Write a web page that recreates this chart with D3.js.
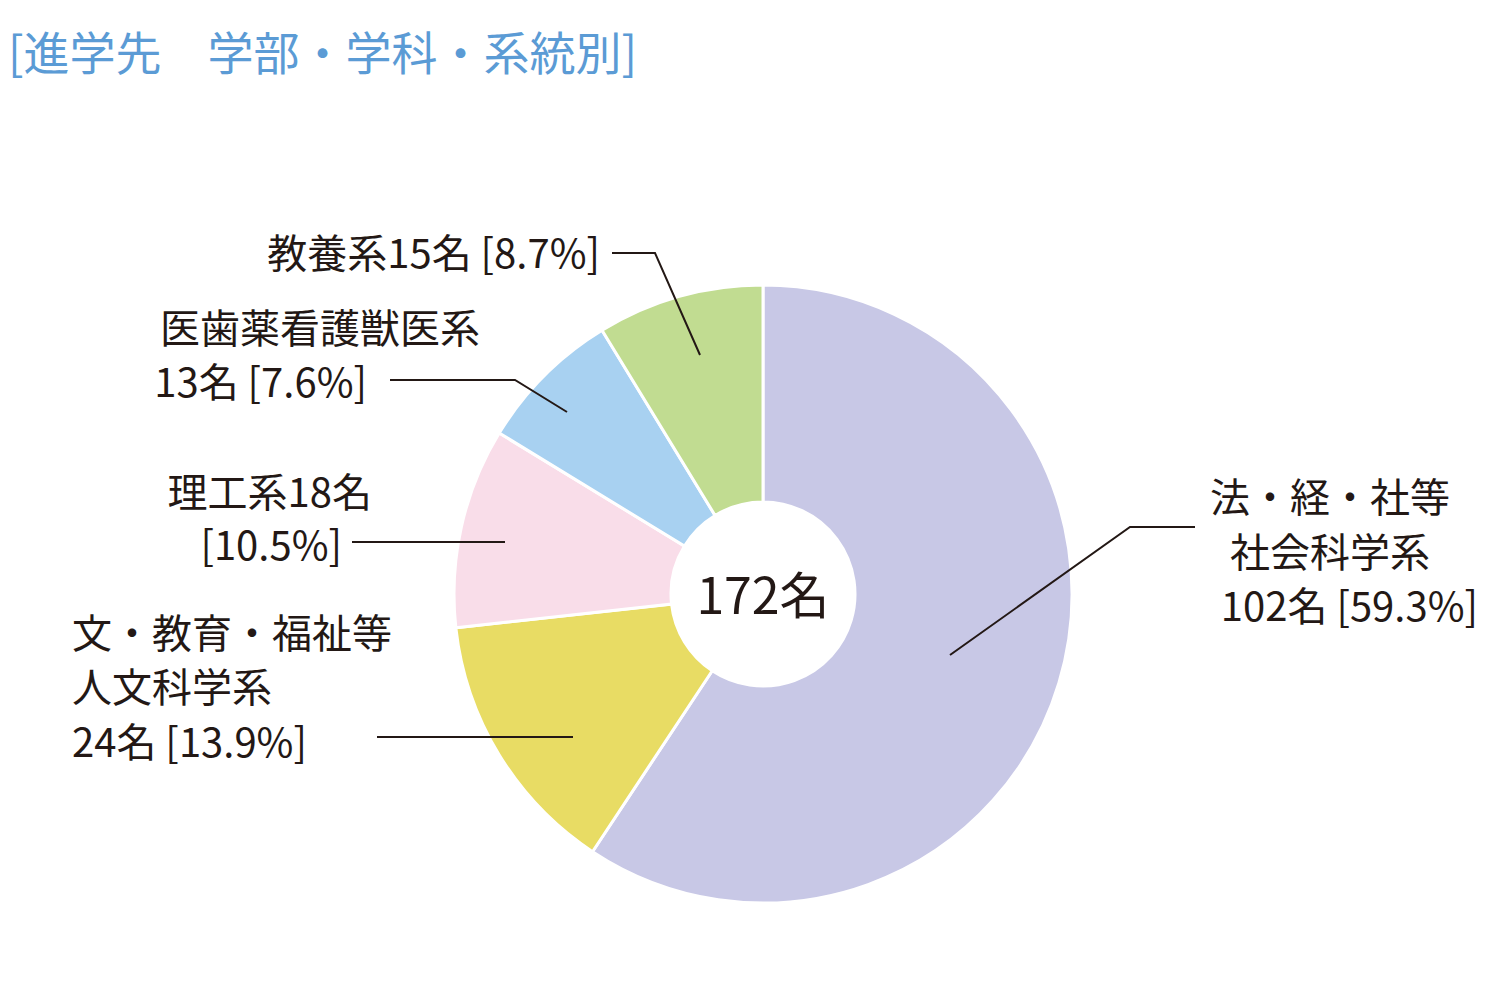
<!DOCTYPE html>
<html><head><meta charset="utf-8">
<script src="https://cdn.jsdelivr.net/npm/d3@7/dist/d3.min.js"></script>
<style>body{margin:0;background:#fff}text{font-family:"Noto Sans CJK JP","Noto Sans",sans-serif;fill:#231815}</style>
</head><body><svg id="c" width="1490" height="1000"></svg>
<script>
const categories=["法・経・社等社会科学系","文・教育・福祉等人文科学系","理工系","医歯薬看護獣医系","教養系"];
const counts=[102,24,18,13,15];
const percents=["59.3%","13.9%","10.5%","7.6%","8.7%"];
const colors=["#c8c8e6","#e8dc64","#f9dde9","#a8d1f1","#c1dc91"];
const total=172;
const svg=d3.select("#c");
svg.append("text").attr("x",8).attr("y",70).style("font-size","46px").style("fill","#5b9bd5").text("[進学先　学部・学科・系統別]");
const cx=763,cy=594;
const pie=d3.pie().sort(null).value(d=>d)(counts);
const arc=d3.arc().innerRadius(92).outerRadius(309);
const g=svg.append("g").attr("transform",`translate(${cx},${cy})`);
g.selectAll("path").data(pie).join("path").attr("d",arc).attr("fill",(d,i)=>colors[i]).attr("stroke","#fff").attr("stroke-width",3);
svg.append("text").attr("x",cx).attr("y",614).attr("text-anchor","middle").style("font-size","50px").text(total+"名");
const fs="40px";
function lines(x,ys,arr,anchor){arr.forEach((t,i)=>svg.append("text").attr("x",x).attr("y",ys[i]).attr("text-anchor",anchor).style("font-size",fs).text(t));}
lines(600,[268],[`教養系${counts[4]}名 [${percents[4]}]`],"end");
lines(480,[343],["医歯薬看護獣医系"],"end");
lines(367,[397],[`${counts[3]}名 [${percents[3]}]`],"end");
lines(372,[507],[`理工系${counts[2]}名`],"end");
lines(342,[560],[`[${percents[2]}]`],"end");
lines(72,[648,702,757],["文・教育・福祉等","人文科学系",`${counts[1]}名 [${percents[1]}]`],"start");
lines(1330,[512,567],["法・経・社等","社会科学系"],"middle");
lines(1478,[621],[`${counts[0]}名 [${percents[0]}]`],"end");
const leaders=[[[612,253],[655,253],[700,355]],[[390,380],[515,380],[567,412]],[[352,542],[505,542]],[[377,737],[573,737]],[[1195,527],[1130,527],[950,655]]];
const line=d3.line();
leaders.forEach(p=>svg.append("path").attr("d",line(p)).attr("fill","none").attr("stroke","#231815").attr("stroke-width",2));
</script></body></html>
